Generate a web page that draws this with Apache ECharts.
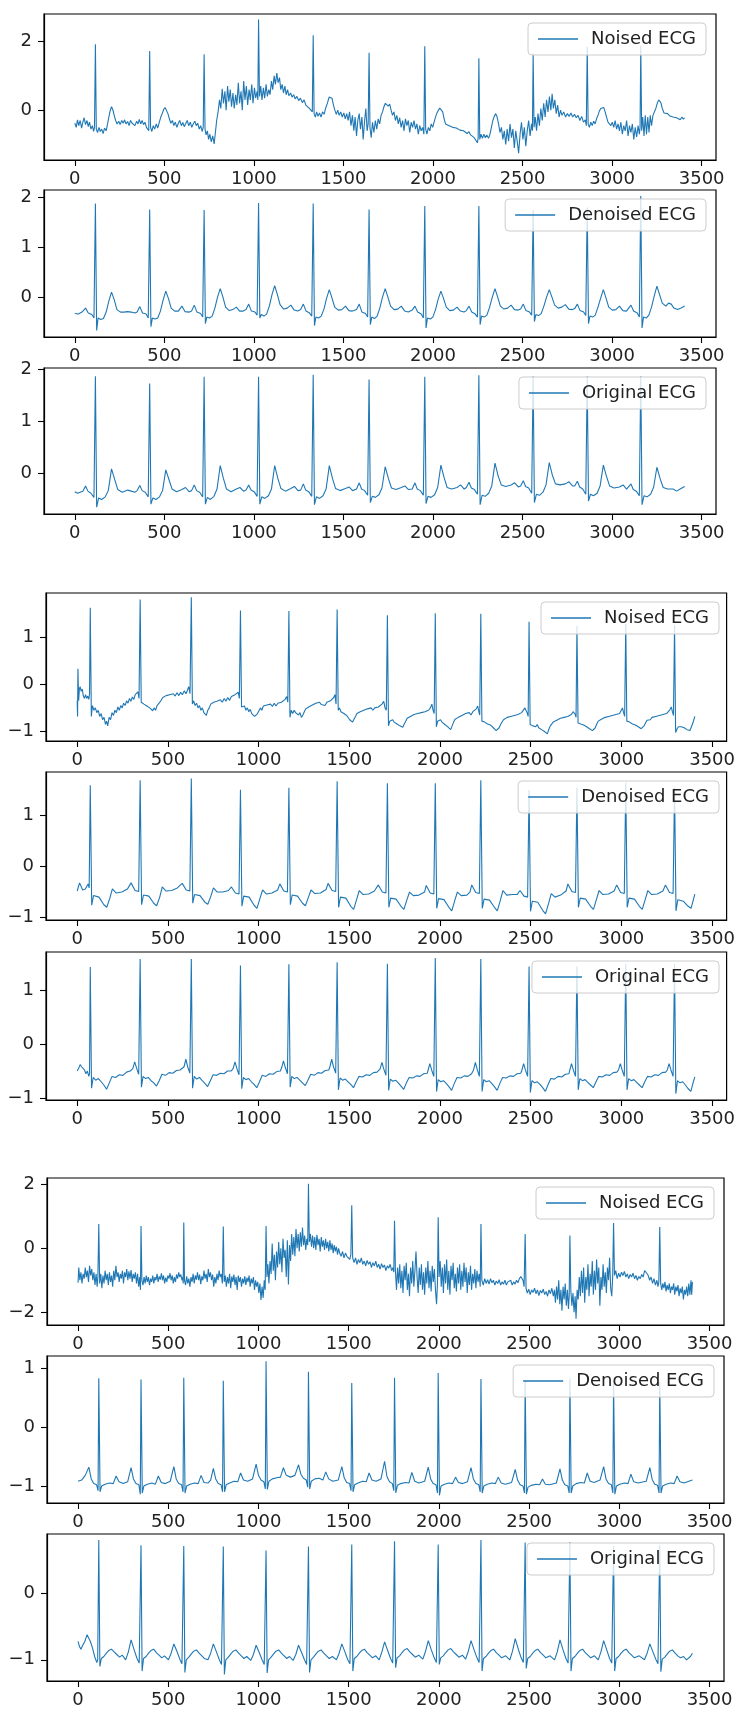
<!DOCTYPE html>
<html>
<head>
<meta charset="utf-8">
<script src="https://cdn.jsdelivr.net/npm/echarts@6/dist/echarts.min.js"></script>
<style>
  html, body { margin: 0; padding: 0; background: #fff; }
  #chart { width: 738px; height: 1715px; }
</style>
</head>
<body>
<div id="chart"></div>
<script>
// ---- tick values ----
const xTicks = [0, 500, 1000, 1500, 2000, 2500, 3000, 3500]

// ---- record 1 ----
const noised1 = [[0,-0.38],[8,-0.5],[15,-0.28],[22,-0.45],[30,-0.3],[38,-0.52],[45,-0.35],[52,-0.22],[60,-0.42],[68,-0.3],[75,-0.48],[82,-0.35],[90,-0.55],[98,-0.45],[105,-0.62],[110,-0.5],[115,1.92],[120,-0.55],[127,-0.65],[135,-0.5],[142,-0.62],[150,-0.55],[158,-0.68],[166,-0.52],[175,-0.6],[183,-0.4],[190,-0.2],[198,0.0],[205,0.1],[212,0.02],[220,-0.15],[228,-0.3],[236,-0.4],[245,-0.32],[253,-0.42],[262,-0.3],[270,-0.38],[278,-0.28],[286,-0.4],[295,-0.33],[303,-0.45],[311,-0.3],[320,-0.38],[328,-0.35],[336,-0.45],[345,-0.32],[353,-0.4],[360,-0.27],[368,-0.4],[376,-0.3],[384,-0.42],[392,-0.35],[400,-0.5],[408,-0.45],[413,-0.6],[418,1.72],[423,-0.5],[430,-0.62],[438,-0.45],[446,-0.55],[455,-0.4],[463,-0.52],[472,-0.35],[480,-0.2],[488,-0.1],[496,0.02],[504,0.08],[512,0.05],[520,-0.1],[528,-0.25],[536,-0.38],[545,-0.3],[553,-0.45],[561,-0.35],[570,-0.5],[578,-0.38],[586,-0.3],[595,-0.45],[603,-0.36],[611,-0.48],[620,-0.38],[628,-0.3],[636,-0.45],[645,-0.35],[653,-0.5],[661,-0.4],[670,-0.32],[678,-0.45],[686,-0.38],[695,-0.55],[703,-0.45],[711,-0.62],[717,-0.5],[722,1.63],[727,-0.55],[733,-0.72],[740,-0.6],[747,-0.85],[754,-0.7],[762,-0.92],[770,-0.75],[778,-0.98],[786,-0.6],[792,-0.3],[800,-0.05],[808,0.3],[815,0.05],[823,0.62],[830,0.2],[838,0.55],[845,0.0],[853,0.7],[860,0.25],[868,0.6],[875,0.1],[883,0.5],[890,0.05],[898,0.45],[905,0.15],[913,0.8],[920,0.2],[928,0.55],[935,0.0],[943,0.85],[950,0.3],[958,0.7],[965,0.15],[973,0.6],[980,0.3],[988,0.75],[995,0.2],[1003,0.65],[1010,0.35],[1018,0.55],[1022,0.3],[1026,2.64],[1031,0.4],[1038,0.7],[1045,0.3],[1053,0.65],[1060,0.35],[1068,0.75],[1075,0.4],[1083,0.6],[1090,0.45],[1098,0.85],[1105,0.6],[1113,1.0],[1120,0.75],[1128,1.08],[1135,0.8],[1143,0.95],[1150,0.6],[1158,0.75],[1165,0.5],[1173,0.7],[1180,0.45],[1188,0.6],[1195,0.42],[1205,0.5],[1213,0.38],[1222,0.45],[1230,0.33],[1240,0.4],[1250,0.28],[1260,0.35],[1270,0.22],[1280,0.3],[1290,0.15],[1300,0.2],[1310,0.05],[1318,0.1],[1326,-0.05],[1331,2.18],[1336,-0.1],[1343,-0.2],[1350,-0.05],[1358,-0.18],[1366,-0.08],[1375,-0.2],[1383,-0.05],[1392,-0.12],[1400,0.05],[1410,0.2],[1420,0.38],[1428,0.42],[1436,0.35],[1444,0.15],[1452,0.0],[1460,-0.12],[1468,0.0],[1476,-0.15],[1485,-0.05],[1493,-0.2],[1502,-0.08],[1510,-0.25],[1518,-0.1],[1526,-0.3],[1534,-0.05],[1542,-0.45],[1550,-0.15],[1558,-0.6],[1565,-0.2],[1573,-0.75],[1580,-0.3],[1588,-0.1],[1595,-0.55],[1603,-0.2],[1610,-0.85],[1618,-0.3],[1625,0.05],[1632,-0.6],[1638,-0.4],[1643,1.67],[1648,-0.5],[1655,-0.8],[1662,-0.35],[1670,-0.65],[1678,-0.3],[1686,-0.55],[1694,-0.25],[1702,-0.4],[1710,-0.15],[1718,-0.05],[1726,0.1],[1734,0.2],[1742,0.25],[1750,0.12],[1758,0.18],[1766,0.0],[1774,-0.15],[1782,-0.05],[1790,-0.3],[1798,-0.15],[1806,-0.4],[1814,-0.22],[1822,-0.5],[1830,-0.3],[1838,-0.6],[1846,-0.25],[1854,-0.45],[1862,-0.3],[1870,-0.65],[1878,-0.35],[1886,-0.5],[1894,-0.3],[1902,-0.55],[1910,-0.4],[1918,-0.7],[1926,-0.45],[1934,-0.6],[1942,-0.5],[1949,-0.7],[1954,1.86],[1959,-0.55],[1966,-0.7],[1974,-0.5],[1982,-0.6],[1990,-0.4],[1998,-0.5],[2006,-0.35],[2014,-0.2],[2022,-0.08],[2030,0.0],[2038,0.06],[2046,0.08],[2054,-0.05],[2062,-0.25],[2070,-0.4],[2080,-0.35],[2090,-0.45],[2100,-0.4],[2110,-0.5],[2120,-0.45],[2130,-0.52],[2140,-0.5],[2150,-0.58],[2160,-0.55],[2170,-0.6],[2180,-0.58],[2190,-0.68],[2200,-0.62],[2210,-0.72],[2220,-0.7],[2230,-0.8],[2240,-0.75],[2248,-0.95],[2252,-0.8],[2256,1.51],[2261,-0.85],[2268,-0.7],[2276,-0.82],[2284,-0.7],[2292,-0.8],[2300,-0.72],[2310,-0.82],[2318,-0.7],[2326,-0.5],[2334,-0.3],[2342,-0.18],[2350,-0.1],[2358,-0.2],[2366,-0.4],[2374,-0.65],[2382,-0.5],[2390,-0.85],[2398,-0.6],[2406,-1.0],[2414,-0.55],[2422,-0.9],[2430,-0.4],[2438,-0.8],[2446,-0.55],[2454,-1.1],[2462,-0.6],[2470,-0.9],[2478,-1.25],[2486,-0.7],[2494,-0.35],[2502,-0.85],[2510,-0.5],[2518,-1.05],[2526,-0.6],[2534,-0.3],[2542,-0.75],[2550,-0.4],[2555,-0.6],[2559,1.65],[2564,-0.5],[2571,-0.2],[2578,-0.6],[2586,-0.1],[2594,-0.45],[2602,0.05],[2610,-0.3],[2618,0.2],[2626,-0.2],[2634,0.3],[2642,-0.05],[2650,0.4],[2658,0.0],[2665,0.48],[2672,0.05],[2680,0.3],[2688,-0.1],[2696,0.15],[2704,-0.2],[2712,0.0],[2720,-0.15],[2730,-0.05],[2740,-0.2],[2750,-0.1],[2760,-0.18],[2770,-0.08],[2780,-0.2],[2790,-0.12],[2800,-0.22],[2810,-0.15],[2820,-0.3],[2830,-0.18],[2840,-0.35],[2850,-0.28],[2856,-0.45],[2861,1.85],[2866,-0.4],[2873,-0.5],[2881,-0.35],[2889,-0.45],[2897,-0.32],[2905,-0.4],[2913,-0.25],[2921,-0.15],[2929,-0.02],[2937,0.05],[2945,0.1],[2953,0.08],[2961,-0.05],[2969,-0.2],[2977,-0.35],[2985,-0.3],[2993,-0.45],[3001,-0.35],[3009,-0.5],[3017,-0.3],[3025,-0.55],[3033,-0.4],[3041,-0.6],[3049,-0.35],[3057,-0.7],[3065,-0.45],[3073,-0.6],[3081,-0.3],[3089,-0.75],[3097,-0.45],[3105,-0.65],[3113,-0.4],[3121,-0.85],[3129,-0.5],[3137,-0.78],[3145,-0.45],[3152,-0.7],[3156,-0.5],[3160,1.88],[3165,-0.6],[3171,-0.2],[3178,-0.75],[3185,-0.15],[3192,-0.7],[3199,-0.2],[3206,-0.65],[3213,-0.15],[3220,-0.45],[3228,-0.15],[3236,-0.1],[3244,0.05],[3252,0.2],[3260,0.3],[3266,0.35],[3272,0.22],[3280,0.05],[3290,-0.08],[3300,-0.12],[3310,-0.1],[3320,-0.16],[3330,-0.12],[3340,-0.2],[3350,-0.15],[3360,-0.22],[3370,-0.18],[3380,-0.28],[3390,-0.2],[3398,-0.26],[3405,-0.22]]

const denoised1 = [[0,-0.33],[20,-0.34],[40,-0.3],[60,-0.22],[75,-0.32],[95,-0.35],[107,-0.42],[115,1.88],[122,-0.67],[130,-0.42],[145,-0.45],[160,-0.43],[175,-0.3],[190,-0.08],[205,0.1],[220,-0.05],[235,-0.25],[255,-0.3],[275,-0.3],[295,-0.29],[315,-0.3],[335,-0.32],[348,-0.3],[363,-0.19],[378,-0.32],[398,-0.34],[410,-0.42],[418,1.76],[425,-0.59],[433,-0.42],[448,-0.44],[463,-0.42],[478,-0.28],[493,-0.06],[508,0.12],[523,-0.03],[538,-0.22],[558,-0.28],[578,-0.28],[598,-0.18],[615,-0.29],[640,-0.3],[652,-0.28],[667,-0.16],[682,-0.3],[702,-0.33],[714,-0.4],[722,1.75],[729,-0.53],[737,-0.4],[752,-0.42],[767,-0.38],[782,-0.22],[797,0.0],[812,0.17],[827,0.0],[842,-0.2],[862,-0.27],[882,-0.25],[902,-0.2],[920,-0.28],[940,-0.28],[956,-0.25],[971,-0.14],[986,-0.28],[1006,-0.3],[1018,-0.36],[1026,1.89],[1033,-0.42],[1041,-0.35],[1056,-0.38],[1071,-0.34],[1086,-0.18],[1101,0.05],[1116,0.23],[1131,0.05],[1146,-0.15],[1166,-0.24],[1186,-0.22],[1206,-0.16],[1225,-0.26],[1245,-0.28],[1261,-0.25],[1276,-0.14],[1291,-0.28],[1311,-0.32],[1323,-0.38],[1331,1.88],[1338,-0.57],[1346,-0.4],[1361,-0.42],[1376,-0.38],[1391,-0.24],[1406,-0.02],[1421,0.15],[1436,-0.02],[1451,-0.2],[1471,-0.26],[1491,-0.25],[1511,-0.18],[1530,-0.27],[1550,-0.28],[1573,-0.25],[1588,-0.14],[1603,-0.3],[1623,-0.33],[1635,-0.4],[1643,1.76],[1650,-0.55],[1658,-0.4],[1673,-0.43],[1688,-0.38],[1703,-0.22],[1718,0.0],[1733,0.17],[1748,0.0],[1763,-0.18],[1783,-0.25],[1803,-0.24],[1823,-0.18],[1842,-0.28],[1862,-0.3],[1884,-0.26],[1899,-0.18],[1914,-0.3],[1934,-0.34],[1946,-0.42],[1954,1.83],[1961,-0.62],[1969,-0.42],[1984,-0.44],[1999,-0.4],[2014,-0.25],[2029,-0.04],[2044,0.12],[2059,-0.03],[2074,-0.2],[2094,-0.27],[2114,-0.26],[2134,-0.2],[2153,-0.28],[2173,-0.3],[2186,-0.27],[2201,-0.18],[2216,-0.3],[2236,-0.34],[2248,-0.4],[2256,1.83],[2263,-0.55],[2271,-0.38],[2286,-0.4],[2301,-0.36],[2316,-0.2],[2331,0.0],[2346,0.17],[2361,0.0],[2376,-0.18],[2396,-0.24],[2416,-0.22],[2436,-0.16],[2455,-0.25],[2475,-0.26],[2489,-0.24],[2504,-0.14],[2519,-0.27],[2539,-0.3],[2551,-0.36],[2559,1.75],[2566,-0.49],[2574,-0.35],[2589,-0.37],[2604,-0.33],[2619,-0.18],[2634,0.0],[2649,0.15],[2664,0.0],[2679,-0.16],[2699,-0.22],[2719,-0.2],[2739,-0.15],[2758,-0.24],[2778,-0.25],[2791,-0.23],[2806,-0.14],[2821,-0.27],[2841,-0.3],[2853,-0.37],[2861,1.8],[2868,-0.53],[2876,-0.38],[2891,-0.4],[2906,-0.36],[2921,-0.2],[2936,-0.02],[2951,0.15],[2966,-0.02],[2981,-0.2],[3001,-0.26],[3021,-0.25],[3041,-0.18],[3060,-0.27],[3080,-0.28],[3090,-0.26],[3105,-0.16],[3120,-0.28],[3140,-0.32],[3152,-0.4],[3160,2.03],[3167,-0.62],[3175,-0.4],[3190,-0.42],[3205,-0.36],[3220,-0.2],[3235,0.02],[3250,0.22],[3265,0.05],[3280,-0.12],[3300,-0.18],[3315,-0.12],[3330,-0.14],[3345,-0.22],[3365,-0.25],[3385,-0.22],[3405,-0.18]]

const original1 = [[0,-0.35],[15,-0.38],[30,-0.36],[45,-0.34],[60,-0.24],[73,-0.34],[90,-0.38],[107,-0.46],[115,1.87],[122,-0.65],[133,-0.47],[150,-0.5],[170,-0.45],[187,-0.33],[205,0.09],[223,-0.12],[240,-0.31],[265,-0.36],[295,-0.32],[315,-0.34],[335,-0.36],[348,-0.33],[363,-0.23],[376,-0.33],[393,-0.36],[410,-0.45],[418,1.73],[425,-0.59],[436,-0.47],[453,-0.5],[473,-0.45],[490,-0.33],[508,0.07],[526,-0.12],[543,-0.3],[568,-0.35],[598,-0.31],[618,-0.27],[638,-0.35],[652,-0.33],[667,-0.22],[680,-0.33],[697,-0.36],[714,-0.45],[722,1.86],[729,-0.59],[740,-0.46],[757,-0.5],[777,-0.44],[794,-0.3],[812,0.15],[830,-0.1],[847,-0.3],[872,-0.35],[902,-0.3],[922,-0.27],[942,-0.34],[956,-0.32],[971,-0.22],[984,-0.32],[1001,-0.35],[1018,-0.44],[1026,1.86],[1033,-0.59],[1044,-0.45],[1061,-0.48],[1081,-0.43],[1098,-0.3],[1116,0.15],[1134,-0.1],[1151,-0.29],[1176,-0.34],[1206,-0.29],[1226,-0.25],[1246,-0.33],[1261,-0.32],[1276,-0.2],[1289,-0.32],[1306,-0.35],[1323,-0.44],[1331,1.9],[1338,-0.6],[1349,-0.45],[1366,-0.48],[1386,-0.43],[1403,-0.3],[1421,0.15],[1439,-0.1],[1456,-0.29],[1481,-0.33],[1511,-0.29],[1531,-0.26],[1551,-0.33],[1573,-0.3],[1588,-0.18],[1601,-0.3],[1618,-0.33],[1635,-0.42],[1643,1.81],[1650,-0.56],[1661,-0.44],[1678,-0.46],[1698,-0.41],[1715,-0.28],[1733,0.13],[1751,-0.1],[1768,-0.28],[1793,-0.31],[1823,-0.27],[1843,-0.24],[1863,-0.31],[1884,-0.3],[1899,-0.18],[1912,-0.3],[1929,-0.33],[1946,-0.42],[1954,1.86],[1961,-0.58],[1972,-0.44],[1989,-0.46],[2009,-0.41],[2026,-0.27],[2044,0.16],[2062,-0.08],[2079,-0.27],[2104,-0.3],[2134,-0.27],[2154,-0.22],[2174,-0.3],[2186,-0.27],[2201,-0.17],[2214,-0.28],[2231,-0.31],[2248,-0.4],[2256,1.89],[2263,-0.6],[2274,-0.42],[2291,-0.44],[2311,-0.38],[2328,-0.24],[2346,0.2],[2364,-0.05],[2381,-0.22],[2406,-0.25],[2436,-0.22],[2456,-0.18],[2476,-0.26],[2489,-0.24],[2504,-0.14],[2517,-0.25],[2534,-0.28],[2551,-0.38],[2559,1.87],[2566,-0.56],[2577,-0.4],[2594,-0.42],[2614,-0.36],[2631,-0.22],[2649,0.21],[2667,-0.04],[2684,-0.2],[2709,-0.22],[2739,-0.2],[2759,-0.16],[2779,-0.24],[2791,-0.24],[2806,-0.15],[2819,-0.26],[2836,-0.3],[2853,-0.4],[2861,1.87],[2868,-0.53],[2879,-0.4],[2896,-0.43],[2916,-0.38],[2933,-0.24],[2951,0.16],[2969,-0.06],[2986,-0.24],[3011,-0.28],[3041,-0.26],[3061,-0.22],[3081,-0.3],[3090,-0.3],[3105,-0.2],[3118,-0.31],[3135,-0.34],[3152,-0.43],[3160,1.87],[3167,-0.6],[3178,-0.43],[3195,-0.45],[3215,-0.4],[3232,-0.26],[3250,0.12],[3268,-0.1],[3285,-0.27],[3310,-0.3],[3340,-0.3],[3360,-0.34],[3380,-0.3],[3405,-0.25]]

// ---- record 2 ----
const noised2 = [[0,-0.35],[2,-0.68],[4,0.33],[8,-0.35],[12,-0.1],[16,-0.05],[22,-0.15],[28,-0.1],[34,-0.25],[40,-0.3],[46,-0.22],[52,-0.3],[58,-0.25],[64,-0.32],[68,-0.2],[72,1.62],[78,-0.68],[84,-0.45],[92,-0.55],[100,-0.5],[108,-0.6],[116,-0.55],[124,-0.68],[132,-0.62],[140,-0.75],[148,-0.7],[156,-0.85],[162,-0.78],[168,-0.88],[176,-0.7],[184,-0.75],[192,-0.6],[200,-0.66],[208,-0.55],[216,-0.6],[224,-0.48],[232,-0.55],[240,-0.45],[248,-0.5],[256,-0.4],[264,-0.45],[272,-0.35],[280,-0.4],[288,-0.3],[296,-0.36],[304,-0.27],[312,-0.32],[320,-0.22],[328,-0.25],[335,-0.16],[341,-0.3],[347,1.79],[353,-0.38],[360,-0.34],[368,-0.42],[376,-0.38],[384,-0.46],[392,-0.42],[400,-0.5],[408,-0.46],[416,-0.56],[424,-0.5],[432,-0.55],[440,-0.45],[448,-0.48],[456,-0.38],[464,-0.35],[472,-0.28],[480,-0.3],[490,-0.24],[500,-0.28],[510,-0.22],[520,-0.26],[530,-0.2],[540,-0.25],[550,-0.18],[560,-0.24],[570,-0.17],[580,-0.22],[590,-0.14],[600,-0.2],[608,-0.12],[615,-0.05],[622,-0.2],[629,1.84],[635,-0.42],[642,-0.35],[650,-0.45],[658,-0.4],[666,-0.5],[674,-0.45],[682,-0.55],[690,-0.5],[698,-0.6],[706,-0.56],[712,-0.66],[720,-0.55],[728,-0.5],[736,-0.42],[744,-0.46],[752,-0.38],[760,-0.42],[770,-0.36],[780,-0.4],[790,-0.33],[800,-0.38],[810,-0.3],[820,-0.36],[830,-0.28],[840,-0.34],[850,-0.26],[860,-0.3],[870,-0.22],[880,-0.25],[888,-0.17],[894,-0.3],[900,1.56],[906,-0.48],[914,-0.5],[922,-0.46],[930,-0.55],[938,-0.5],[946,-0.58],[954,-0.53],[962,-0.62],[970,-0.6],[978,-0.68],[986,-0.7],[994,-0.62],[1002,-0.58],[1010,-0.5],[1018,-0.55],[1026,-0.46],[1036,-0.5],[1046,-0.44],[1056,-0.48],[1066,-0.42],[1076,-0.47],[1086,-0.4],[1096,-0.46],[1106,-0.4],[1116,-0.44],[1126,-0.38],[1136,-0.42],[1146,-0.32],[1155,-0.26],[1161,-0.38],[1167,1.55],[1173,-0.7],[1180,-0.55],[1188,-0.62],[1196,-0.55],[1204,-0.6],[1212,-0.56],[1220,-0.65],[1228,-0.6],[1236,-0.7],[1244,-0.65],[1252,-0.58],[1260,-0.52],[1268,-0.56],[1276,-0.48],[1286,-0.5],[1296,-0.44],[1306,-0.47],[1316,-0.4],[1326,-0.44],[1336,-0.38],[1346,-0.43],[1356,-0.4],[1366,-0.45],[1376,-0.38],[1386,-0.42],[1396,-0.35],[1406,-0.38],[1414,-0.28],[1421,-0.22],[1427,-0.42],[1433,1.58],[1439,-0.55],[1446,-0.5],[1454,-0.58],[1462,-0.55],[1470,-0.62],[1478,-0.58],[1486,-0.66],[1494,-0.7],[1502,-0.75],[1510,-0.72],[1518,-0.8],[1526,-0.74],[1534,-0.68],[1542,-0.62],[1550,-0.65],[1560,-0.58],[1570,-0.62],[1580,-0.55],[1590,-0.58],[1600,-0.52],[1610,-0.56],[1620,-0.5],[1630,-0.55],[1640,-0.5],[1650,-0.54],[1660,-0.48],[1670,-0.5],[1680,-0.42],[1690,-0.36],[1697,-0.5],[1704,-0.55],[1710,1.46],[1716,-0.88],[1723,-0.78],[1731,-0.82],[1739,-0.75],[1747,-0.8],[1755,-0.76],[1763,-0.84],[1771,-0.8],[1779,-0.88],[1787,-0.85],[1795,-0.91],[1803,-0.84],[1811,-0.78],[1819,-0.72],[1827,-0.76],[1837,-0.68],[1847,-0.72],[1857,-0.64],[1867,-0.68],[1877,-0.62],[1887,-0.66],[1897,-0.6],[1907,-0.64],[1917,-0.58],[1927,-0.62],[1937,-0.55],[1947,-0.5],[1955,-0.42],[1962,-0.55],[1968,-0.62],[1974,1.5],[1980,-0.9],[1987,-0.78],[1995,-0.82],[2003,-0.75],[2011,-0.8],[2019,-0.76],[2027,-0.85],[2035,-0.82],[2043,-0.9],[2051,-0.88],[2059,-0.96],[2067,-0.88],[2075,-0.8],[2083,-0.74],[2091,-0.78],[2101,-0.7],[2111,-0.74],[2121,-0.66],[2131,-0.7],[2141,-0.62],[2151,-0.66],[2161,-0.6],[2171,-0.65],[2181,-0.58],[2191,-0.62],[2200,-0.52],[2208,-0.46],[2214,-0.58],[2219,-0.65],[2225,1.49],[2231,-0.78],[2238,-0.74],[2246,-0.8],[2254,-0.76],[2262,-0.84],[2270,-0.8],[2278,-0.86],[2286,-0.84],[2294,-0.92],[2302,-0.9],[2310,-0.98],[2318,-1.0],[2326,-0.92],[2334,-0.85],[2342,-0.8],[2350,-0.75],[2360,-0.78],[2370,-0.7],[2380,-0.74],[2390,-0.68],[2400,-0.72],[2410,-0.66],[2420,-0.7],[2430,-0.64],[2440,-0.68],[2450,-0.6],[2460,-0.62],[2468,-0.5],[2474,-0.46],[2480,-0.6],[2486,-0.68],[2491,1.32],[2497,-0.85],[2504,-0.82],[2512,-0.88],[2520,-0.84],[2528,-0.9],[2536,-0.85],[2544,-0.92],[2552,-0.9],[2560,-0.96],[2568,-0.94],[2576,-1.0],[2584,-0.98],[2592,-1.05],[2600,-0.95],[2608,-0.88],[2616,-0.85],[2624,-0.8],[2634,-0.84],[2644,-0.76],[2654,-0.8],[2664,-0.72],[2674,-0.76],[2684,-0.7],[2694,-0.74],[2704,-0.68],[2714,-0.72],[2724,-0.64],[2734,-0.58],[2740,-0.54],[2746,-0.64],[2750,-0.7],[2755,1.23],[2761,-0.82],[2768,-0.78],[2776,-0.84],[2784,-0.8],[2792,-0.86],[2800,-0.82],[2808,-0.9],[2816,-0.86],[2824,-0.94],[2832,-0.92],[2840,-0.98],[2848,-1.0],[2856,-0.92],[2864,-0.84],[2872,-0.78],[2880,-0.8],[2890,-0.74],[2900,-0.78],[2910,-0.7],[2920,-0.74],[2930,-0.68],[2940,-0.72],[2950,-0.66],[2960,-0.7],[2970,-0.64],[2980,-0.68],[2990,-0.62],[2998,-0.56],[3006,-0.5],[3012,-0.6],[3018,-0.68],[3024,1.28],[3030,-0.78],[3037,-0.74],[3045,-0.8],[3053,-0.76],[3061,-0.84],[3069,-0.8],[3077,-0.86],[3085,-0.84],[3093,-0.9],[3101,-0.88],[3109,-0.94],[3117,-0.96],[3125,-0.88],[3133,-0.82],[3141,-0.76],[3149,-0.72],[3159,-0.75],[3169,-0.7],[3179,-0.73],[3189,-0.68],[3199,-0.72],[3209,-0.66],[3219,-0.7],[3229,-0.64],[3239,-0.68],[3249,-0.62],[3259,-0.64],[3267,-0.54],[3275,-0.48],[3281,-0.58],[3287,-0.66],[3293,1.25],[3299,-1.02],[3306,-0.95],[3314,-0.9],[3322,-0.86],[3330,-0.9],[3338,-0.86],[3346,-0.92],[3354,-0.88],[3362,-0.96],[3370,-0.94],[3378,-0.98],[3386,-0.9],[3394,-0.82],[3400,-0.74],[3405,-0.68]]

const denoised2 = [[0,-0.48],[13,-0.32],[30,-0.46],[45,-0.44],[60,-0.34],[66,-0.42],[72,1.6],[80,-0.76],[90,-0.57],[120,-0.6],[147,-0.75],[163,-0.8],[180,-0.62],[194,-0.44],[215,-0.52],[246,-0.5],[277,-0.44],[297,-0.32],[319,-0.47],[339,-0.49],[347,1.7],[355,-0.75],[365,-0.56],[395,-0.58],[422,-0.72],[438,-0.77],[455,-0.6],[469,-0.4],[490,-0.48],[521,-0.47],[552,-0.42],[579,-0.33],[601,-0.46],[621,-0.48],[629,1.73],[637,-0.72],[647,-0.55],[677,-0.57],[704,-0.7],[720,-0.74],[737,-0.58],[751,-0.42],[772,-0.5],[803,-0.5],[834,-0.47],[850,-0.4],[872,-0.52],[892,-0.54],[900,1.51],[908,-0.78],[918,-0.58],[948,-0.6],[975,-0.76],[991,-0.82],[1008,-0.62],[1022,-0.46],[1043,-0.54],[1074,-0.52],[1105,-0.46],[1117,-0.34],[1139,-0.48],[1159,-0.5],[1167,1.55],[1175,-0.75],[1185,-0.56],[1215,-0.58],[1242,-0.72],[1258,-0.77],[1275,-0.6],[1289,-0.46],[1310,-0.53],[1341,-0.52],[1372,-0.45],[1383,-0.33],[1405,-0.47],[1425,-0.49],[1433,1.68],[1441,-0.8],[1451,-0.6],[1481,-0.62],[1508,-0.78],[1524,-0.84],[1541,-0.64],[1555,-0.47],[1576,-0.55],[1607,-0.54],[1638,-0.48],[1660,-0.36],[1682,-0.5],[1702,-0.52],[1710,1.64],[1718,-0.8],[1728,-0.62],[1758,-0.64],[1785,-0.78],[1801,-0.84],[1818,-0.65],[1832,-0.5],[1853,-0.57],[1884,-0.56],[1915,-0.5],[1924,-0.37],[1946,-0.52],[1966,-0.54],[1974,1.64],[1982,-0.82],[1992,-0.63],[2022,-0.65],[2049,-0.8],[2065,-0.87],[2082,-0.66],[2096,-0.5],[2117,-0.57],[2148,-0.56],[2165,-0.5],[2175,-0.36],[2197,-0.51],[2217,-0.53],[2225,1.7],[2233,-0.82],[2243,-0.64],[2273,-0.66],[2300,-0.8],[2316,-0.87],[2333,-0.66],[2347,-0.47],[2368,-0.56],[2399,-0.55],[2425,-0.55],[2441,-0.47],[2463,-0.58],[2483,-0.6],[2491,1.5],[2499,-0.88],[2509,-0.68],[2539,-0.7],[2566,-0.86],[2582,-0.93],[2599,-0.72],[2613,-0.53],[2634,-0.6],[2665,-0.56],[2695,-0.48],[2705,-0.34],[2727,-0.49],[2747,-0.51],[2755,1.55],[2763,-0.8],[2773,-0.62],[2803,-0.64],[2830,-0.78],[2846,-0.84],[2863,-0.64],[2877,-0.47],[2898,-0.55],[2929,-0.54],[2960,-0.48],[2974,-0.36],[2996,-0.51],[3016,-0.53],[3024,1.65],[3032,-0.8],[3042,-0.62],[3072,-0.64],[3099,-0.78],[3115,-0.84],[3132,-0.64],[3146,-0.47],[3167,-0.55],[3198,-0.54],[3229,-0.48],[3243,-0.36],[3265,-0.51],[3285,-0.53],[3293,1.55],[3301,-0.87],[3311,-0.65],[3341,-0.68],[3368,-0.78],[3384,-0.82],[3405,-0.54]]

const original2 = [[0,-0.5],[8,-0.45],[16,-0.38],[24,-0.42],[32,-0.4],[40,-0.48],[48,-0.55],[56,-0.5],[64,-0.6],[68,-0.55],[72,1.44],[79,-0.82],[88,-0.62],[102,-0.67],[117,-0.64],[132,-0.7],[147,-0.76],[162,-0.84],[177,-0.72],[192,-0.6],[212,-0.62],[232,-0.57],[252,-0.58],[272,-0.52],[292,-0.5],[307,-0.45],[317,-0.33],[327,-0.44],[339,-0.56],[347,1.59],[354,-0.8],[363,-0.6],[377,-0.64],[392,-0.62],[407,-0.68],[422,-0.72],[437,-0.78],[452,-0.68],[467,-0.56],[487,-0.58],[507,-0.53],[527,-0.54],[547,-0.49],[567,-0.48],[589,-0.42],[599,-0.28],[609,-0.42],[621,-0.54],[629,1.59],[636,-0.82],[645,-0.6],[659,-0.65],[674,-0.62],[689,-0.68],[704,-0.73],[719,-0.79],[734,-0.68],[749,-0.57],[769,-0.58],[789,-0.54],[809,-0.55],[829,-0.5],[849,-0.5],[860,-0.45],[870,-0.33],[880,-0.45],[892,-0.57],[900,1.47],[907,-0.83],[916,-0.62],[930,-0.66],[945,-0.64],[960,-0.7],[975,-0.75],[990,-0.81],[1005,-0.7],[1020,-0.58],[1040,-0.6],[1060,-0.55],[1080,-0.56],[1100,-0.51],[1120,-0.5],[1127,-0.44],[1137,-0.31],[1147,-0.43],[1159,-0.55],[1167,1.49],[1174,-0.8],[1183,-0.6],[1197,-0.64],[1212,-0.62],[1227,-0.67],[1242,-0.72],[1257,-0.77],[1272,-0.67],[1287,-0.56],[1307,-0.58],[1327,-0.53],[1347,-0.54],[1367,-0.49],[1387,-0.48],[1393,-0.42],[1403,-0.28],[1413,-0.42],[1425,-0.54],[1433,1.53],[1440,-0.85],[1449,-0.63],[1463,-0.67],[1478,-0.65],[1493,-0.7],[1508,-0.75],[1523,-0.81],[1538,-0.7],[1553,-0.6],[1573,-0.61],[1593,-0.57],[1613,-0.58],[1633,-0.53],[1653,-0.52],[1670,-0.46],[1680,-0.34],[1690,-0.46],[1702,-0.58],[1710,1.5],[1717,-0.86],[1726,-0.65],[1740,-0.69],[1755,-0.67],[1770,-0.72],[1785,-0.78],[1800,-0.84],[1815,-0.72],[1830,-0.62],[1850,-0.63],[1870,-0.59],[1890,-0.6],[1910,-0.55],[1930,-0.54],[1934,-0.49],[1944,-0.36],[1954,-0.48],[1966,-0.6],[1974,1.61],[1981,-0.88],[1990,-0.66],[2004,-0.7],[2019,-0.68],[2034,-0.73],[2049,-0.79],[2064,-0.86],[2079,-0.73],[2094,-0.62],[2114,-0.63],[2134,-0.59],[2154,-0.6],[2174,-0.55],[2185,-0.48],[2195,-0.34],[2205,-0.47],[2217,-0.6],[2225,1.59],[2232,-0.88],[2241,-0.66],[2255,-0.7],[2270,-0.68],[2285,-0.73],[2300,-0.79],[2315,-0.86],[2330,-0.73],[2345,-0.62],[2365,-0.63],[2385,-0.59],[2405,-0.6],[2425,-0.55],[2445,-0.54],[2451,-0.49],[2461,-0.36],[2471,-0.48],[2483,-0.6],[2491,1.45],[2498,-0.9],[2507,-0.68],[2521,-0.72],[2536,-0.7],[2551,-0.75],[2566,-0.81],[2581,-0.88],[2596,-0.75],[2611,-0.64],[2631,-0.65],[2651,-0.6],[2671,-0.61],[2691,-0.56],[2711,-0.55],[2715,-0.49],[2725,-0.36],[2735,-0.48],[2747,-0.6],[2755,1.45],[2762,-0.85],[2771,-0.64],[2785,-0.68],[2800,-0.66],[2815,-0.71],[2830,-0.76],[2845,-0.81],[2860,-0.7],[2875,-0.6],[2895,-0.61],[2915,-0.57],[2935,-0.58],[2955,-0.53],[2975,-0.52],[2984,-0.48],[2994,-0.36],[3004,-0.48],[3016,-0.6],[3024,1.5],[3031,-0.85],[3040,-0.64],[3054,-0.68],[3069,-0.66],[3084,-0.71],[3099,-0.76],[3114,-0.81],[3129,-0.7],[3144,-0.6],[3164,-0.61],[3184,-0.57],[3204,-0.58],[3224,-0.53],[3244,-0.52],[3253,-0.48],[3263,-0.36],[3273,-0.48],[3285,-0.6],[3293,1.5],[3300,-0.92],[3309,-0.68],[3323,-0.72],[3338,-0.7],[3353,-0.76],[3368,-0.83],[3383,-0.88],[3395,-0.72],[3405,-0.61]]

// ---- record 3 ----
const noised3 = [[0,-1.08],[4,-0.6],[10,-1.0],[16,-0.75],[22,-1.1],[28,-0.8],[34,-0.95],[40,-0.6],[46,-0.9],[52,-0.7],[58,-1.05],[64,-0.55],[70,-0.85],[76,-0.65],[82,-1.0],[88,-0.75],[94,-1.15],[100,-0.8],[106,-1.2],[110,-0.9],[115,0.76],[120,-1.1],[126,-0.8],[132,-1.25],[138,-0.85],[144,-1.1],[150,-0.7],[156,-1.0],[162,-0.8],[168,-1.15],[174,-0.75],[180,-1.05],[186,-0.85],[192,-1.2],[198,-0.7],[204,-1.0],[210,-0.55],[216,-0.9],[222,-0.75],[228,-1.05],[234,-0.8],[240,-0.95],[246,-0.7],[252,-1.1],[258,-0.75],[264,-0.9],[270,-0.65],[276,-1.0],[282,-0.72],[288,-0.95],[294,-0.68],[300,-1.05],[306,-0.8],[312,-0.95],[318,-0.75],[324,-1.1],[330,-0.8],[336,-1.2],[342,-0.9],[346,-1.3],[349,0.7],[354,-1.0],[360,-1.15],[366,-0.9],[372,-1.1],[378,-0.85],[384,-1.05],[390,-0.9],[396,-1.15],[402,-0.95],[408,-1.05],[414,-0.85],[420,-1.1],[426,-0.9],[432,-1.0],[438,-0.8],[444,-1.05],[450,-0.88],[456,-0.98],[462,-0.78],[468,-1.0],[474,-0.85],[480,-1.1],[486,-0.92],[492,-1.05],[498,-0.85],[504,-0.95],[510,-0.78],[516,-1.0],[522,-0.85],[528,-1.1],[534,-0.9],[540,-1.05],[546,-0.82],[552,-0.95],[558,-0.75],[564,-0.9],[570,-0.82],[576,-1.0],[580,-0.9],[583,-1.1],[586,0.81],[590,-1.0],[596,-1.15],[602,-0.88],[608,-1.1],[614,-0.95],[620,-1.2],[626,-0.9],[632,-1.05],[638,-0.8],[644,-1.1],[650,-0.85],[656,-0.98],[662,-0.75],[668,-1.0],[674,-0.82],[680,-1.12],[686,-0.88],[692,-1.0],[698,-0.7],[704,-0.95],[710,-0.8],[716,-1.05],[722,-0.65],[728,-0.9],[734,-0.75],[740,-1.0],[746,-0.82],[752,-1.2],[758,-0.9],[764,-1.1],[770,-0.8],[776,-1.0],[782,-0.7],[788,-0.9],[794,-0.8],[800,-1.1],[805,0.68],[810,-1.05],[816,-0.85],[822,-1.2],[828,-0.9],[834,-1.1],[840,-0.8],[846,-1.25],[852,-0.88],[858,-1.05],[864,-0.82],[870,-1.15],[876,-0.9],[882,-1.3],[888,-0.85],[894,-1.05],[900,-0.9],[906,-1.2],[912,-0.95],[918,-1.1],[924,-0.88],[930,-1.15],[936,-0.92],[942,-1.05],[948,-0.85],[954,-1.2],[960,-0.95],[966,-1.1],[972,-0.9],[978,-1.3],[984,-1.0],[990,-1.2],[996,-1.05],[1002,-1.4],[1008,-1.1],[1014,-1.62],[1020,-1.2],[1026,-1.55],[1032,-1.0],[1037,-1.3],[1042,0.7],[1047,-0.9],[1052,-0.5],[1058,-1.1],[1064,-0.4],[1070,-0.8],[1076,0.15],[1082,-0.7],[1088,-0.2],[1094,-1.0],[1100,-0.1],[1106,-0.6],[1112,0.2],[1118,-0.5],[1124,0.0],[1130,-0.75],[1136,0.3],[1142,-0.3],[1148,-0.05],[1154,-0.9],[1160,0.25],[1166,-1.13],[1172,0.1],[1178,-0.4],[1184,0.45],[1190,-0.2],[1196,0.35],[1202,-0.25],[1208,0.6],[1214,0.0],[1220,0.45],[1226,-0.1],[1232,0.5],[1238,0.05],[1244,0.65],[1250,0.1],[1256,0.4],[1262,-0.05],[1268,0.3],[1273,0.1],[1277,2.02],[1282,0.2],[1288,0.45],[1294,0.05],[1300,0.4],[1306,0.0],[1312,0.35],[1318,-0.05],[1324,0.42],[1330,0.1],[1336,0.3],[1342,-0.1],[1348,0.35],[1354,0.05],[1360,0.25],[1366,-0.05],[1372,0.3],[1378,0.0],[1384,0.2],[1390,-0.1],[1396,0.25],[1402,-0.05],[1408,0.15],[1414,-0.15],[1420,0.1],[1426,-0.1],[1432,0.05],[1438,-0.2],[1444,0.0],[1450,-0.15],[1458,-0.25],[1466,-0.1],[1474,-0.3],[1482,-0.15],[1490,-0.25],[1498,-0.2],[1506,-0.35],[1512,-0.2],[1517,1.35],[1522,-0.3],[1530,-0.45],[1538,-0.3],[1546,-0.5],[1554,-0.35],[1562,-0.45],[1570,-0.3],[1578,-0.5],[1586,-0.4],[1594,-0.55],[1602,-0.38],[1610,-0.5],[1618,-0.42],[1626,-0.6],[1634,-0.45],[1642,-0.55],[1650,-0.4],[1658,-0.6],[1666,-0.5],[1674,-0.65],[1682,-0.48],[1690,-0.6],[1698,-0.52],[1706,-0.7],[1714,-0.55],[1722,-0.62],[1730,-0.5],[1738,-0.7],[1746,-0.6],[1750,-0.75],[1754,0.86],[1759,-0.7],[1765,-1.3],[1771,-0.6],[1777,-1.1],[1783,-0.5],[1789,-1.25],[1795,-0.7],[1801,-1.4],[1807,-0.55],[1813,-1.0],[1819,-0.45],[1825,-1.3],[1831,-0.8],[1837,-1.5],[1843,-0.6],[1849,-1.1],[1855,-0.4],[1861,-1.2],[1867,-0.7],[1873,-0.1],[1879,-0.9],[1885,-1.4],[1891,-0.6],[1897,-1.15],[1903,-0.5],[1909,-1.3],[1915,-0.75],[1921,-1.45],[1927,-0.6],[1933,-1.1],[1939,-0.4],[1945,-1.25],[1951,-0.7],[1957,-1.35],[1963,-0.55],[1969,-1.05],[1975,-0.65],[1981,-1.3],[1987,-1.75],[1992,-1.1],[1996,0.97],[2001,-0.9],[2007,-0.4],[2013,-1.2],[2019,-0.6],[2025,-1.4],[2031,-0.5],[2037,-1.1],[2043,-0.35],[2049,-1.3],[2055,-0.7],[2061,-1.45],[2067,-0.55],[2073,-1.0],[2079,-0.45],[2085,-1.25],[2091,-0.8],[2097,-1.35],[2103,-0.6],[2109,-1.1],[2115,-0.5],[2121,-1.3],[2127,-0.7],[2133,-1.2],[2139,-0.45],[2145,-1.05],[2151,-0.6],[2157,-1.4],[2163,-0.75],[2169,-1.15],[2175,-0.55],[2181,-1.3],[2187,-0.8],[2193,-1.1],[2199,-0.65],[2205,-1.25],[2211,-0.7],[2217,-1.05],[2223,-0.8],[2229,-1.2],[2233,0.76],[2238,-1.0],[2246,-1.15],[2254,-0.95],[2262,-1.1],[2270,-0.98],[2278,-1.12],[2286,-0.95],[2294,-1.08],[2302,-1.0],[2310,-1.15],[2318,-1.02],[2326,-1.1],[2334,-0.98],[2342,-1.15],[2350,-1.05],[2358,-1.12],[2366,-1.0],[2374,-1.15],[2382,-1.05],[2390,-1.1],[2398,-1.0],[2406,-1.15],[2414,-1.05],[2422,-1.12],[2430,-1.0],[2438,-1.08],[2446,-0.95],[2454,-0.88],[2460,-0.85],[2466,-1.0],[2472,-1.2],[2478,0.45],[2483,-1.25],[2490,-1.4],[2498,-1.28],[2506,-1.45],[2514,-1.3],[2522,-1.38],[2530,-1.25],[2538,-1.42],[2546,-1.3],[2554,-1.48],[2562,-1.32],[2570,-1.4],[2578,-1.28],[2586,-1.45],[2594,-1.35],[2602,-1.5],[2610,-1.3],[2618,-1.42],[2626,-1.25],[2634,-1.5],[2640,-1.3],[2646,-1.7],[2652,-1.2],[2658,-1.6],[2664,-1.0],[2670,-1.75],[2676,-1.3],[2682,-1.95],[2688,-1.2],[2694,-1.6],[2700,-1.1],[2706,-1.8],[2712,-1.3],[2718,-1.9],[2722,-1.5],[2726,0.4],[2731,-1.3],[2737,-1.8],[2743,-1.4],[2749,-2.0],[2755,-1.5],[2760,-2.2],[2766,-1.3],[2772,-1.6],[2778,-0.9],[2784,-1.5],[2790,-0.7],[2796,-1.4],[2802,-0.6],[2808,-1.7],[2814,-0.9],[2820,-1.3],[2826,-0.5],[2832,-1.5],[2838,-0.8],[2844,-1.2],[2850,-0.4],[2856,-1.45],[2862,-0.7],[2868,-1.3],[2874,-0.35],[2880,-1.1],[2886,-0.6],[2892,-1.8],[2898,-0.9],[2904,-1.3],[2910,-0.5],[2916,-1.2],[2922,-0.75],[2928,-1.4],[2934,-0.6],[2940,-1.0],[2946,-0.3],[2952,-1.25],[2958,-1.5],[2963,-0.9],[2968,0.79],[2973,-0.85],[2980,-0.7],[2988,-0.95],[2996,-0.78],[3004,-0.9],[3012,-0.75],[3020,-0.85],[3028,-0.72],[3036,-0.9],[3044,-0.8],[3052,-0.95],[3060,-0.82],[3068,-0.9],[3076,-0.78],[3084,-0.95],[3092,-0.85],[3100,-1.0],[3108,-0.88],[3116,-0.95],[3124,-0.82],[3132,-0.9],[3140,-0.7],[3146,-0.65],[3152,-0.78],[3160,-0.85],[3168,-1.0],[3176,-0.9],[3184,-1.1],[3192,-0.95],[3200,-1.15],[3208,-1.0],[3214,-1.2],[3219,-1.05],[3224,0.67],[3229,-1.1],[3235,-1.3],[3241,-1.1],[3247,-1.25],[3253,-1.05],[3259,-1.35],[3265,-1.15],[3271,-1.3],[3277,-1.1],[3283,-1.4],[3289,-1.2],[3295,-1.3],[3301,-1.1],[3307,-1.45],[3313,-1.2],[3319,-1.35],[3325,-1.15],[3331,-1.5],[3337,-1.25],[3343,-1.4],[3349,-1.2],[3355,-1.6],[3361,-1.3],[3367,-1.45],[3373,-1.2],[3379,-1.5],[3385,-1.1],[3391,-1.45],[3397,-1.0],[3401,-1.45],[3405,-1.05]]

const denoised3 = [[0,-0.92],[20,-0.9],[40,-0.82],[60,-0.68],[73,-0.88],[87,-0.96],[103,-0.98],[111,-1.08],[115,0.83],[122,-1.1],[131,-1.0],[150,-0.97],[175,-0.95],[195,-0.96],[211,-0.83],[227,-0.93],[250,-0.96],[275,-0.93],[294,-0.69],[307,-0.88],[321,-0.96],[337,-0.98],[345,-1.14],[349,0.81],[356,-1.12],[365,-1.0],[384,-0.97],[409,-0.95],[429,-0.97],[445,-0.83],[461,-0.94],[484,-0.96],[511,-0.92],[531,-0.67],[544,-0.88],[558,-0.96],[574,-0.98],[582,-1.1],[586,0.84],[593,-1.12],[602,-1.0],[621,-0.97],[646,-0.95],[666,-0.96],[682,-0.82],[698,-0.94],[720,-0.95],[735,-0.9],[750,-0.7],[763,-0.88],[777,-0.96],[793,-0.98],[801,-1.1],[805,0.79],[812,-1.1],[821,-0.98],[840,-0.95],[865,-0.92],[885,-0.93],[901,-0.78],[917,-0.9],[940,-0.92],[967,-0.88],[987,-0.63],[1000,-0.82],[1014,-0.9],[1030,-0.93],[1038,-1.05],[1042,1.12],[1049,-1.06],[1058,-0.92],[1077,-0.88],[1102,-0.86],[1122,-0.85],[1138,-0.69],[1154,-0.82],[1177,-0.85],[1202,-0.82],[1222,-0.64],[1235,-0.8],[1249,-0.87],[1265,-0.9],[1273,-1.02],[1277,0.94],[1284,-1.05],[1293,-0.92],[1312,-0.88],[1337,-0.87],[1357,-0.9],[1373,-0.76],[1389,-0.88],[1412,-0.92],[1442,-0.9],[1462,-0.67],[1475,-0.86],[1489,-0.94],[1505,-0.96],[1513,-1.08],[1517,0.75],[1524,-1.1],[1533,-0.98],[1552,-0.95],[1577,-0.92],[1597,-0.93],[1613,-0.78],[1629,-0.9],[1652,-0.92],[1679,-0.88],[1699,-0.58],[1712,-0.84],[1726,-0.93],[1742,-0.96],[1750,-1.08],[1754,0.84],[1761,-1.12],[1770,-0.99],[1789,-0.96],[1814,-0.94],[1834,-0.95],[1850,-0.77],[1866,-0.92],[1889,-0.95],[1921,-0.92],[1941,-0.68],[1954,-0.88],[1968,-0.96],[1984,-0.98],[1992,-1.12],[1996,0.92],[2003,-1.16],[2012,-1.0],[2031,-0.97],[2056,-0.95],[2076,-0.96],[2092,-0.85],[2108,-0.94],[2131,-0.96],[2158,-0.93],[2178,-0.69],[2191,-0.88],[2205,-0.96],[2221,-0.98],[2229,-1.1],[2233,0.82],[2240,-1.12],[2249,-1.0],[2268,-0.97],[2293,-0.95],[2313,-0.96],[2329,-0.85],[2345,-0.95],[2368,-0.97],[2403,-0.94],[2423,-0.72],[2436,-0.9],[2450,-0.98],[2466,-1.0],[2474,-1.12],[2478,0.8],[2485,-1.14],[2494,-1.02],[2513,-0.99],[2538,-0.97],[2558,-0.98],[2574,-0.88],[2590,-0.97],[2613,-0.98],[2651,-0.95],[2671,-0.71],[2684,-0.9],[2698,-0.98],[2714,-1.0],[2722,-1.12],[2726,0.83],[2733,-1.12],[2742,-1.0],[2761,-0.96],[2786,-0.94],[2806,-0.95],[2822,-0.78],[2838,-0.92],[2861,-0.94],[2893,-0.9],[2913,-0.67],[2926,-0.88],[2940,-0.96],[2956,-0.98],[2964,-1.12],[2968,0.77],[2975,-1.14],[2984,-1.0],[3003,-0.97],[3028,-0.95],[3048,-0.96],[3064,-0.8],[3080,-0.93],[3103,-0.95],[3149,-0.92],[3169,-0.69],[3182,-0.89],[3196,-0.97],[3212,-0.99],[3220,-1.12],[3224,0.77],[3231,-1.12],[3240,-1.0],[3259,-0.97],[3284,-0.95],[3304,-0.96],[3320,-0.83],[3336,-0.93],[3359,-0.95],[3385,-0.92],[3405,-0.9]]

const original3 = [[0,-0.72],[8,-0.8],[16,-0.84],[26,-0.78],[38,-0.72],[50,-0.62],[58,-0.6],[68,-0.72],[80,-0.82],[92,-0.95],[104,-1.04],[109,-1.0],[115,0.81],[121,-1.1],[129,-0.98],[143,-0.95],[157,-0.9],[170,-0.86],[185,-0.84],[200,-0.88],[215,-0.92],[230,-0.96],[245,-0.93],[264,-1.0],[279,-0.88],[294,-0.7],[301,-0.67],[311,-0.85],[327,-0.98],[339,-1.05],[349,0.73],[355,-1.17],[363,-0.98],[377,-0.95],[391,-0.9],[404,-0.86],[419,-0.84],[434,-0.89],[449,-0.93],[464,-0.97],[479,-0.94],[501,-1.0],[516,-0.9],[531,-0.76],[538,-0.73],[548,-0.87],[564,-0.99],[576,-1.06],[586,0.72],[592,-1.19],[600,-1.0],[614,-0.96],[628,-0.91],[641,-0.87],[656,-0.85],[671,-0.9],[686,-0.94],[700,-0.98],[720,-1.0],[735,-0.9],[750,-0.76],[757,-0.73],[767,-0.88],[783,-1.0],[795,-1.07],[805,0.71],[811,-1.22],[819,-1.0],[833,-0.96],[847,-0.91],[860,-0.87],[875,-0.85],[890,-0.9],[905,-0.94],[920,-0.98],[935,-0.95],[957,-1.01],[972,-0.92],[987,-0.78],[994,-0.75],[1004,-0.89],[1020,-1.0],[1032,-1.07],[1042,0.65],[1048,-1.2],[1056,-1.0],[1070,-0.96],[1084,-0.91],[1097,-0.87],[1112,-0.85],[1127,-0.9],[1142,-0.94],[1157,-0.98],[1172,-0.95],[1192,-1.01],[1207,-0.92],[1222,-0.78],[1229,-0.75],[1239,-0.89],[1255,-1.0],[1267,-1.07],[1277,0.71],[1283,-1.19],[1291,-1.0],[1305,-0.96],[1319,-0.91],[1332,-0.87],[1347,-0.85],[1362,-0.9],[1377,-0.94],[1392,-0.98],[1410,-0.95],[1432,-1.0],[1447,-0.9],[1462,-0.76],[1469,-0.73],[1479,-0.88],[1495,-1.0],[1507,-1.06],[1517,0.74],[1523,-1.17],[1531,-0.98],[1545,-0.95],[1559,-0.9],[1572,-0.86],[1587,-0.84],[1602,-0.89],[1617,-0.93],[1632,-0.97],[1650,-0.94],[1669,-1.0],[1684,-0.88],[1699,-0.73],[1706,-0.7],[1716,-0.86],[1732,-0.98],[1744,-1.05],[1754,0.79],[1760,-1.12],[1768,-0.97],[1782,-0.94],[1796,-0.89],[1809,-0.85],[1824,-0.83],[1839,-0.88],[1854,-0.92],[1869,-0.96],[1888,-0.93],[1911,-0.99],[1926,-0.87],[1941,-0.71],[1948,-0.68],[1958,-0.85],[1974,-0.97],[1986,-1.04],[1996,0.74],[2002,-1.07],[2010,-0.97],[2024,-0.94],[2038,-0.89],[2051,-0.85],[2066,-0.83],[2081,-0.88],[2096,-0.92],[2111,-0.96],[2130,-0.93],[2148,-0.99],[2163,-0.87],[2178,-0.71],[2185,-0.68],[2195,-0.85],[2211,-0.97],[2223,-1.04],[2233,0.81],[2239,-1.17],[2247,-0.98],[2261,-0.95],[2275,-0.9],[2288,-0.86],[2303,-0.84],[2318,-0.89],[2333,-0.93],[2348,-0.97],[2370,-0.94],[2393,-1.0],[2408,-0.87],[2423,-0.68],[2430,-0.65],[2440,-0.84],[2456,-0.97],[2468,-1.04],[2478,0.77],[2484,-1.13],[2492,-0.98],[2506,-0.95],[2520,-0.9],[2533,-0.86],[2548,-0.84],[2563,-0.89],[2578,-0.93],[2593,-0.97],[2616,-0.94],[2641,-1.0],[2656,-0.88],[2671,-0.7],[2678,-0.67],[2688,-0.85],[2704,-0.98],[2716,-1.05],[2726,0.78],[2732,-1.17],[2740,-0.98],[2754,-0.95],[2768,-0.9],[2781,-0.86],[2796,-0.84],[2811,-0.89],[2826,-0.93],[2841,-0.97],[2862,-0.94],[2883,-1.0],[2898,-0.88],[2913,-0.71],[2920,-0.68],[2930,-0.85],[2946,-0.98],[2958,-1.05],[2968,0.72],[2974,-1.17],[2982,-0.98],[2996,-0.95],[3010,-0.9],[3023,-0.86],[3038,-0.84],[3053,-0.89],[3068,-0.93],[3083,-0.97],[3110,-0.94],[3139,-1.0],[3154,-0.9],[3169,-0.76],[3176,-0.73],[3186,-0.88],[3202,-0.99],[3214,-1.06],[3224,0.73],[3230,-1.18],[3238,-0.99],[3252,-0.96],[3266,-0.91],[3279,-0.87],[3294,-0.85],[3309,-0.9],[3324,-0.94],[3339,-0.97],[3356,-0.95],[3372,-1.0],[3382,-1.02],[3394,-0.95],[3405,-0.9]]

// ---- panel layout (box = [left, top, width, height] in px) ----
const panels = [
  { name: 'Noised ECG',   data: noised1,   yMin: -1.45, yMax: 2.8,  yTicks: [0, 2],     box: [44, 14, 672, 146],   legendRight: 32 },
  { name: 'Denoised ECG', data: denoised1, yMin: -0.8,  yMax: 2.15, yTicks: [0, 1, 2],  box: [44, 190, 672, 147],  legendRight: 32 },
  { name: 'Original ECG', data: original1, yMin: -0.78, yMax: 2.03, yTicks: [0, 1, 2],  box: [44, 368, 672, 146],  legendRight: 32 },
  { name: 'Noised ECG',   data: noised2,   yMin: -1.2,  yMax: 1.93, yTicks: [-1, 0, 1], box: [46, 593, 683, 148],  legendRight: 19 },
  { name: 'Denoised ECG', data: denoised2, yMin: -1.05, yMax: 1.86, yTicks: [-1, 0, 1], box: [46, 772, 683, 148],  legendRight: 19 },
  { name: 'Original ECG', data: original2, yMin: -1.04, yMax: 1.72, yTicks: [-1, 0, 1], box: [46, 952, 683, 148],  legendRight: 19 },
  { name: 'Noised ECG',   data: noised3,   yMin: -2.4,  yMax: 2.2,  yTicks: [-2, 0, 2], box: [47, 1178, 677, 147], legendRight: 24 },
  { name: 'Denoised ECG', data: denoised3, yMin: -1.29, yMax: 1.21, yTicks: [-1, 0, 1], box: [47, 1356, 677, 147], legendRight: 24 },
  { name: 'Original ECG', data: original3, yMin: -1.32, yMax: 0.9,  yTicks: [-1, 0],    box: [47, 1534, 677, 147], legendRight: 24 }
]

const LINE = '#1f77b4'
const FONT = 'DejaVu Sans'
const plain = v => String(v).replace('-', '\u2212')

const chart = echarts.init(document.getElementById('chart'))

chart.setOption({
  animation: false,
  grid: panels.map(p => ({
    left: p.box[0], top: p.box[1], width: p.box[2], height: p.box[3],
    show: true, borderColor: '#000', borderWidth: 1.2, backgroundColor: 'transparent'
  })),
  xAxis: panels.map((p, i) => ({
    type: 'value', gridIndex: i, min: -172, max: 3580, position: 'bottom',
    splitLine: { show: false },
    axisLine: { show: true, onZero: false, lineStyle: { color: '#000', width: 1.2 } },
    axisTick: { show: true, customValues: xTicks, length: 6, lineStyle: { color: '#000', width: 1.1 } },
    axisLabel: { customValues: xTicks, fontSize: 18, fontFamily: FONT, color: '#222', margin: 10, formatter: plain }
  })),
  yAxis: panels.map((p, i) => ({
    type: 'value', gridIndex: i, min: p.yMin, max: p.yMax, position: 'left',
    splitLine: { show: false },
    axisLine: { show: true, onZero: false, lineStyle: { color: '#000', width: 1.2 } },
    axisTick: { show: true, customValues: p.yTicks, length: 6, lineStyle: { color: '#000', width: 1.1 } },
    axisLabel: { customValues: p.yTicks, fontSize: 18, fontFamily: FONT, color: '#222', margin: 12, formatter: plain }
  })),
  legend: panels.map(p => ({
    data: [p.name],
    right: p.legendRight, top: p.box[1] + 9,
    icon: 'rect', itemWidth: 40, itemHeight: 1.5,
    backgroundColor: 'rgba(255,255,255,0.8)',
    borderColor: '#cccccc', borderWidth: 1, borderRadius: 4,
    padding: [7, 10, 7, 10],
    selectedMode: false,
    textStyle: { fontSize: 18, fontFamily: FONT, color: '#222', padding: [0, 0, 0, 8], lineHeight: 18 }
  })),
  series: panels.map((p, i) => ({
    type: 'line', name: p.name, data: p.data,
    xAxisIndex: i, yAxisIndex: i,
    symbol: 'none', silent: true,
    lineStyle: { width: 1.1, color: LINE },
    itemStyle: { color: LINE }
  }))
})
</script>
</body>
</html>
